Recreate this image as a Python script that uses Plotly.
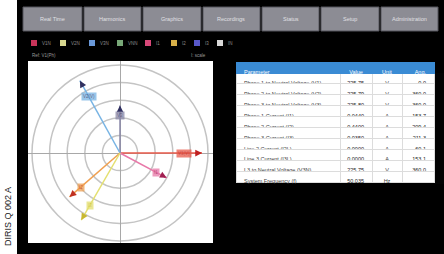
import numpy as np
import plotly.graph_objects as go

W, H = 444, 254

# ---------------- data ----------------
nav_labels = ["Real Time", "Harmonics", "Graphics", "Recordings", "Status", "Setup", "Administration"]
legend_labels = ["V1N", "V2N", "V3N", "VNN", "I1", "I2", "I3", "IN"]
legend_colors = ["#c8345a", "#d8d890", "#6a98d8", "#78a878", "#d84878", "#d8b048", "#5858c8", "#d8d8d8"]

phasor_labels = ["V1(V)", "I1", "V3", "V2(V)", "I2", "I3"]
phasor_mag = [4.66, 3.0, 2.7, 4.7, 3.8, 4.4]
phasor_ang = [0, -28, 90, 119, 221, 240]
phasor_colors = ["#e85a4a", "#e878a8", "#8a88a8", "#78b4e4", "#f0a050", "#e4e070"]
phasor_tip = ["#c02020", "#a02050", "#303060", "#303060", "#c03020", "#c8b830"]
ring_radii = [1, 2, 3, 4, 5]

params = ["Phase 1 to Neutral Voltage (V1)", "Phase 2 to Neutral Voltage (V2)",
          "Phase 3 to Neutral Voltage (V3)", "Phase 1 Current (I1)", "Phase 2 Current (I2)",
          "Phase 3 Current (I3)", "Line 2 Current (I2L)", "Line 3 Current (I3L)",
          "L3 to Neutral Voltage (V3N)", "System Frequency (f)"]
values = ["225.75", "225.79", "225.80", "0.0440", "0.4400", "-0.0350", "0.0000", "0.0000", "225.75", "50.035"]
units = ["V", "V", "V", "A", "A", "A", "A", "A", "V", "Hz"]
angles = ["0.0", "360.0", "360.0", "153.7", "209.4", "211.3", "60.1", "153.1", "360.0", ""]
header = ["Parameter", "Value", "Unit", "Ang."]


def px(x):
    return x / W


def py(y):
    return 1 - y / H


fig = go.Figure()

# ---------------- phasor diagram ----------------
unit = 17.6
cx, cy = 120, 153
xr = [(28 - cx) / unit, (213 - cx) / unit]
yr = [(cy - 243) / unit, (cy - 61) / unit]

ang = np.deg2rad(np.array(phasor_ang, dtype=float))
mag = np.array(phasor_mag)
tx = mag * np.cos(ang)
ty = mag * np.sin(ang)

for i in range(len(mag)):
    fig.add_trace(go.Scatter(x=[0, tx[i]], y=[0, ty[i]], mode="lines",
                             line=dict(color=phasor_colors[i], width=1.5),
                             hoverinfo="skip", showlegend=False))

shapes = []
for r in ring_radii:
    shapes.append(dict(type="circle", xref="x", yref="y", x0=-r, x1=r, y0=-r, y1=r,
                       line=dict(color="#c4c4c4", width=1.5), layer="below"))

annotations = []
for i in range(len(mag)):
    annotations.append(dict(x=tx[i], y=ty[i], ax=tx[i] * 0.9, ay=ty[i] * 0.9,
                            xref="x", yref="y", axref="x", ayref="y", text="",
                            showarrow=True, arrowhead=2, arrowsize=0.9, arrowwidth=1.5,
                            arrowcolor=phasor_tip[i]))
    lr = mag[i] * 0.78
    annotations.append(dict(x=lr * np.cos(ang[i]), y=lr * np.sin(ang[i]), xref="x", yref="y",
                            text=phasor_labels[i], showarrow=False,
                            xanchor="center", yanchor="middle",
                            font=dict(size=4.5, color=phasor_tip[i], family="Liberation Sans"),
                            bgcolor=phasor_colors[i], opacity=0.75, borderpad=1))

fig.update_xaxes(range=xr, domain=[px(28), px(213)], showgrid=False, showticklabels=False,
                 zeroline=True, zerolinecolor="#a8a8a8", zerolinewidth=1, fixedrange=True)
fig.update_yaxes(range=yr, domain=[py(243), py(61)], showgrid=False, showticklabels=False,
                 zeroline=True, zerolinecolor="#a8a8a8", zerolinewidth=1, fixedrange=True)

# ---------------- table ----------------
fig.add_trace(go.Table(
    domain=dict(x=[px(236), px(434)], y=[py(184), py(62)]),
    columnwidth=[104, 32, 30, 32],
    header=dict(values=header, fill_color="#3a8bd4", height=11,
                align=["left", "center", "center", "right"],
                line=dict(color="#3a8bd4", width=1),
                font=dict(size=5.5, color="white", family="Liberation Sans")),
    cells=dict(values=[params, values, units, angles], fill_color="white", height=10.9,
               align=["left", "right", "center", "right"],
               line=dict(color="#dcdcdc", width=1),
               font=dict(size=5.5, color=["#404040", "#202020", "#404040", "#202020"],
                         family="Liberation Sans"))))

# ---------------- left white strip + label ----------------
shapes.append(dict(type="rect", xref="paper", yref="paper", x0=0, x1=px(17), y0=0, y1=1,
                   fillcolor="white", line=dict(width=0), layer="below"))
annotations.append(dict(x=px(8), y=py(217), xref="paper", yref="paper", text="DIRIS Q 002 A",
                        textangle=-90, showarrow=False, xanchor="center", yanchor="middle",
                        font=dict(size=9, color="#202020", family="Liberation Sans")))

# ---------------- nav buttons ----------------
bx = [(23, 82), (84, 141), (143, 201), (203, 260), (262, 319), (321, 379), (381, 438)]
for (x0, x1), lab in zip(bx, nav_labels):
    shapes.append(dict(type="rect", xref="paper", yref="paper", x0=px(x0), x1=px(x1),
                       y0=py(31), y1=py(7), fillcolor="#8c8c94",
                       line=dict(color="#55555c", width=1), layer="below"))
    annotations.append(dict(x=px((x0 + x1) / 2), y=py(19), xref="paper", yref="paper",
                            text=lab, showarrow=False, xanchor="center", yanchor="middle",
                            font=dict(size=5.5, color="#e0e0e4", family="Liberation Sans")))

# ---------------- legend row ----------------
lx = [34, 63, 92, 120, 148, 174, 197, 220]
for x, c, lab in zip(lx, legend_colors, legend_labels):
    shapes.append(dict(type="rect", xref="paper", yref="paper", x0=px(x - 3), x1=px(x + 3),
                       y0=py(46), y1=py(40), fillcolor=c, line=dict(width=0), layer="below"))
    annotations.append(dict(x=px(x + 6), y=py(43), xref="paper", yref="paper", text=lab,
                            xanchor="left", yanchor="middle", showarrow=False,
                            font=dict(size=4.5, color="#8a8a8a", family="Liberation Sans")))

annotations.append(dict(x=px(30), y=py(55), xref="paper", yref="paper", text="Ref: V1(Ph)",
                        xanchor="left", yanchor="middle", showarrow=False,
                        font=dict(size=4.5, color="#9a9a9a", family="Liberation Sans")))
annotations.append(dict(x=px(208), y=py(55), xref="paper", yref="paper", text="I: scale",
                        xanchor="right", yanchor="middle", showarrow=False,
                        font=dict(size=4.5, color="#9a9a9a", family="Liberation Sans")))

fig.update_layout(width=W, height=H, margin=dict(l=0, r=0, t=0, b=0),
                  paper_bgcolor="black", plot_bgcolor="white", showlegend=False,
                  shapes=shapes, annotations=annotations)

fig.write_html("out.html", config={"displayModeBar": False},
               post_script="document.body.style.margin='0px';document.body.style.overflow='hidden';")
